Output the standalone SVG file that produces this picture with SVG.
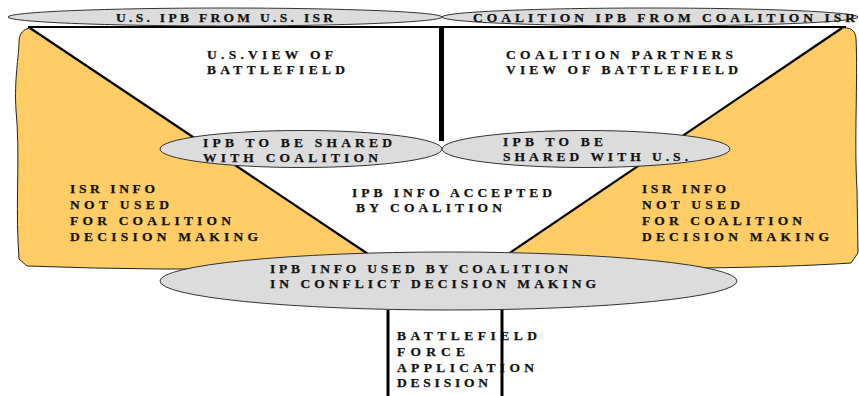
<svg xmlns="http://www.w3.org/2000/svg" width="859" height="396" viewBox="0 0 859 396">
<style>
.t{font-family:"Liberation Serif","Times New Roman",serif;font-weight:bold;font-size:13.5px;fill:#111;stroke:#111;stroke-width:0.25;}
.ell{fill:#dcdcdc;stroke:#333;stroke-width:1;}
.area{fill:#ffcc66;stroke:#222;stroke-width:1;}
.ln{stroke:#000;fill:none;}
</style>
<rect width="859" height="396" fill="#fff"/>
<g id="left-area">
<path class="area" d="M30,28 L368,254 L300,268 Q160,271 27,266 L19,259 L18,240 C16,200 20,150 16,110 C14,80 19,55 19,42 C19,33 24,29 30,28 Z"/>
<text class="t" x="70" y="193" textLength="85" lengthAdjust="spacing">ISR INFO</text>
<text class="t" x="70" y="209" textLength="99" lengthAdjust="spacing">NOT USED</text>
<text class="t" x="70" y="225" textLength="161" lengthAdjust="spacing">FOR COALITION</text>
<text class="t" x="70" y="241" textLength="188" lengthAdjust="spacing">DECISION MAKING</text>
</g>
<g id="right-area">
<path class="area" d="M842,28 C850,27 855,30 856,38 C858,80 854,140 857,190 L858,253 L851,263 Q790,267 700,268 L508,254 Z"/>
<text class="t" x="642" y="193" textLength="84" lengthAdjust="spacing">ISR INFO</text>
<text class="t" x="642" y="209" textLength="98" lengthAdjust="spacing">NOT USED</text>
<text class="t" x="642" y="225" textLength="160" lengthAdjust="spacing">FOR COALITION</text>
<text class="t" x="642" y="241" textLength="187" lengthAdjust="spacing">DECISION MAKING</text>
</g>
<g id="connectors">
<line class="ln" x1="30" y1="28" x2="368" y2="254" stroke-width="2.2"/>
<line class="ln" x1="842" y1="28" x2="508" y2="254" stroke-width="2.2"/>
<line class="ln" x1="28" y1="27" x2="846" y2="27" stroke-width="2"/>
<line class="ln" x1="441.5" y1="27" x2="441.5" y2="141" stroke-width="5"/>
</g>
<g id="us-view">
<text class="t" x="207" y="59" textLength="126" lengthAdjust="spacing">U.S.VIEW OF</text>
<text class="t" x="207" y="74" textLength="138" lengthAdjust="spacing">BATTLEFIELD</text>
</g>
<g id="coalition-view">
<text class="t" x="506" y="59" textLength="227" lengthAdjust="spacing">COALITION PARTNERS</text>
<text class="t" x="506" y="74" textLength="232" lengthAdjust="spacing">VIEW OF BATTLEFIELD</text>
</g>
<g id="accepted">
<text class="t" x="352" y="197" textLength="200" lengthAdjust="spacing">IPB INFO ACCEPTED</text>
<text class="t" x="356" y="212" textLength="146" lengthAdjust="spacing">BY COALITION</text>
</g>
<g id="us-ipb">
<ellipse class="ell" cx="225" cy="17" rx="217" ry="9"/>
<text class="t" x="116" y="22" textLength="217" lengthAdjust="spacing">U.S. IPB FROM U.S. ISR</text>
</g>
<g id="coalition-ipb">
<ellipse class="ell" cx="650" cy="17" rx="208" ry="9"/>
<text class="t" x="473" y="22" textLength="382" lengthAdjust="spacing">COALITION IPB FROM COALITION ISR</text>
</g>
<g id="shared-with-coalition">
<ellipse class="ell" cx="301" cy="149" rx="141" ry="18.5"/>
<text class="t" x="203" y="147" textLength="189" lengthAdjust="spacing">IPB TO BE SHARED</text>
<text class="t" x="203" y="162" textLength="175" lengthAdjust="spacing">WITH COALITION</text>
</g>
<g id="shared-with-us">
<ellipse class="ell" cx="586" cy="149" rx="144" ry="18.5"/>
<text class="t" x="503" y="146" textLength="100" lengthAdjust="spacing">IPB TO BE</text>
<text class="t" x="503" y="161" textLength="185" lengthAdjust="spacing">SHARED WITH U.S.</text>
</g>
<g id="used-by-coalition">
<ellipse class="ell" cx="448.5" cy="281" rx="288.5" ry="29"/>
<text class="t" x="270" y="273" textLength="298" lengthAdjust="spacing">IPB INFO USED BY COALITION</text>
<text class="t" x="270" y="288" textLength="326" lengthAdjust="spacing">IN CONFLICT DECISION MAKING</text>
</g>
<g id="force-application">
<text class="t" x="397" y="340" textLength="140" lengthAdjust="spacing">BATTLEFIELD</text>
<text class="t" x="397" y="356" textLength="68" lengthAdjust="spacing">FORCE</text>
<text class="t" x="397" y="372" textLength="137" lengthAdjust="spacing">APPLICATION</text>
<text class="t" x="397" y="387" textLength="91" lengthAdjust="spacing">DESISION</text>
<line class="ln" x1="388" y1="310" x2="388" y2="396" stroke-width="3"/>
<line class="ln" x1="502" y1="310" x2="502" y2="396" stroke-width="3"/>
</g>
</svg>
